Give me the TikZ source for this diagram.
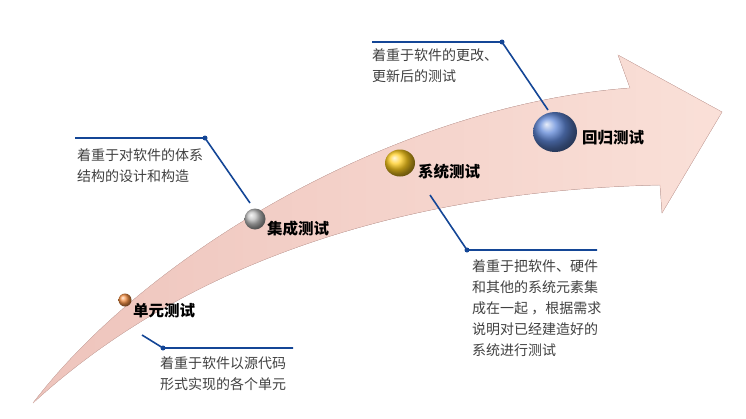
\documentclass[tikz,border=0pt]{standalone}
\usepackage{fontspec}
\setmainfont{Noto Sans CJK SC}
\begin{document}
\begin{tikzpicture}[x=1pt,y=-1pt,
  lead/.style={draw={rgb,255:red,20;green,70;blue,150},line width=1.6pt},
  leaddot/.style={circle,fill={rgb,255:red,20;green,70;blue,150},inner sep=0pt,minimum size=5pt},
  desc/.style={anchor=north west,align=left,font=\fontsize{14}{21}\selectfont,text={rgb,255:red,64;green,64;blue,64},inner sep=0pt},
  lbl/.style={anchor=west,font=\fontsize{15.5}{16}\selectfont\bfseries,inner sep=0pt}]
\useasboundingbox (0,0) rectangle (746,418);
% arrow
\fill[left color={rgb,255:red,238;green,196;blue,188},right color={rgb,255:red,250;green,224;blue,216},draw={rgb,255:red,225;green,185;blue,178}]
  (33,403) .. controls (150,250) and (400,105) .. (630,88)
  -- (618,55) -- (722,112) -- (662,213) -- (660,185)
  .. controls (430,190) and (200,250) .. (33,403) -- cycle;
% balls
\shade[ball color={rgb,255:red,245;green,145;blue,70}] (125,300) circle (6.5);
\shade[ball color={rgb,255:red,190;green,190;blue,190}] (255,219) circle (10.5);
\shade[ball color={rgb,255:red,255;green,205;blue,30}] (400,163) ellipse (15 and 13.5);
\shade[ball color={rgb,255:red,95;green,135;blue,215}] (555,132) ellipse (22 and 20);
\node[lbl] (n1) at (133,311) {单元测试};
\node[lbl] (n2) at (267,229) {集成测试};
\node[lbl] (n3) at (418,172) {系统测试};
\node[lbl] (n4) at (582,138) {回归测试};
% leaders
\coordinate (a1) at (142,335); \node[leaddot] (d1) at (163,348) {}; \coordinate (e1) at (293,348);
\draw[lead] (a1) -- (d1.center) -- (e1);
\coordinate (a2) at (250,203); \node[leaddot] (d2) at (205,138) {}; \coordinate (e2) at (75,138);
\draw[lead] (a2) -- (d2.center) -- (e2);
\coordinate (a3) at (430,195); \node[leaddot] (d3) at (467,250) {}; \coordinate (e3) at (597,250);
\draw[lead] (a3) -- (d3.center) -- (e3);
\coordinate (a4) at (548,110); \node[leaddot] (d4) at (502,42) {}; \coordinate (e4) at (372,42);
\draw[lead] (a4) -- (d4.center) -- (e4);
% texts
\node[desc] (t1) at (160,356) {着重于软件以源代码\\形式实现的各个单元};
\node[desc] (t2) at (77,148) {着重于对软件的体系\\结构的设计和构造};
\node[desc] (t3) at (472,259) {着重于把软件、硬件\\和其他的系统元素集\\成在一起\ ，根据需求\\说明对已经建造好的\\系统进行测试};
\node[desc] (t4) at (372,48) {着重于软件的更改、\\更新后的测试};
\end{tikzpicture}
\end{document}
